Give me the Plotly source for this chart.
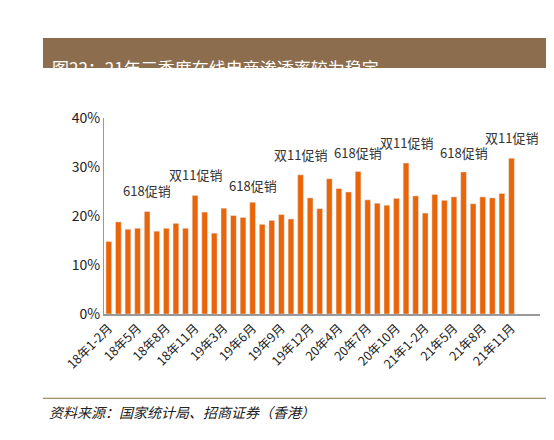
import plotly.graph_objects as go

cats = []
for y in [18, 19, 20, 21]:
    months = ["1-2"] + [str(m) for m in range(3, 13)]
    if y == 21:
        months = months[:-1]
    cats += [f"{y}年{m}月" for m in months]
vals = [14.8, 18.8, 17.3, 17.5, 20.9, 16.9, 17.5, 18.5, 17.5, 24.2, 20.8,
        16.5, 21.6, 20.1, 19.7, 22.8, 18.3, 19.1, 20.3, 19.4, 28.4, 23.7,
        21.5, 27.6, 25.6, 24.9, 29.1, 23.3, 22.6, 22.2, 23.6, 30.8, 24.1,
        20.6, 24.4, 23.2, 23.9, 29.0, 22.5, 23.9, 23.7, 24.6, 31.8]
vals = [v / 100 for v in vals]
notes = [("18年6月", "618促销", 0.228), ("18年11月", "双11促销", 0.262),
         ("19年6月", "618促销", 0.238), ("19年11月", "双11促销", 0.302),
         ("20年6月", "618促销", 0.307), ("20年11月", "双11促销", 0.327),
         ("21年6月", "618促销", 0.307), ("21年11月", "双11促销", 0.336)]

fig = go.Figure(go.Bar(x=cats, y=vals, marker_color="#E8650A", width=0.6))
for c, t, y in notes:
    fig.add_annotation(x=c, y=y, text=t, showarrow=False, yanchor="bottom",
                       font=dict(size=13, color="#333"))
fig.update_layout(
    width=554, height=440, paper_bgcolor="white", plot_bgcolor="white",
    margin=dict(l=96, r=22, t=110, b=134), showlegend=False,
    font=dict(family="Noto Sans CJK SC", color="#222"),
    xaxis=dict(tickvals=cats[::3], tickangle=-45, tickfont=dict(size=12.5),
               showline=True, linecolor="#999", linewidth=2, ticks=""),
    yaxis=dict(range=[0, 0.4], dtick=0.1, tickformat=".0%", showgrid=False,
               tickfont=dict(size=14), showline=True, linecolor="#999", ticks=""),
)
fig.add_shape(type="rect", xref="paper", yref="paper", x0=-0.14, x1=1.06,
              y0=1.255, y1=1.408, fillcolor="#8C6E4E", line_width=0, layer="below")
fig.add_annotation(xref="paper", yref="paper", x=-0.125, y=1.33,
                   text="图22：21年三季度在线电商渗透率较为稳定",
                   showarrow=False, xanchor="left", font=dict(size=17, color="white"))
fig.add_shape(type="line", xref="paper", yref="paper", x0=-0.14, x1=1.04,
              y0=-0.43, y1=-0.43, line=dict(color="#8C6E4E", width=1))
fig.add_annotation(xref="paper", yref="paper", x=-0.13, y=-0.44, yanchor="top",
                   text="<i>资料来源：国家统计局、招商证券（香港）</i>", showarrow=False,
                   xanchor="left", font=dict(size=14, color="#222"))
fig.write_html("out.html")
